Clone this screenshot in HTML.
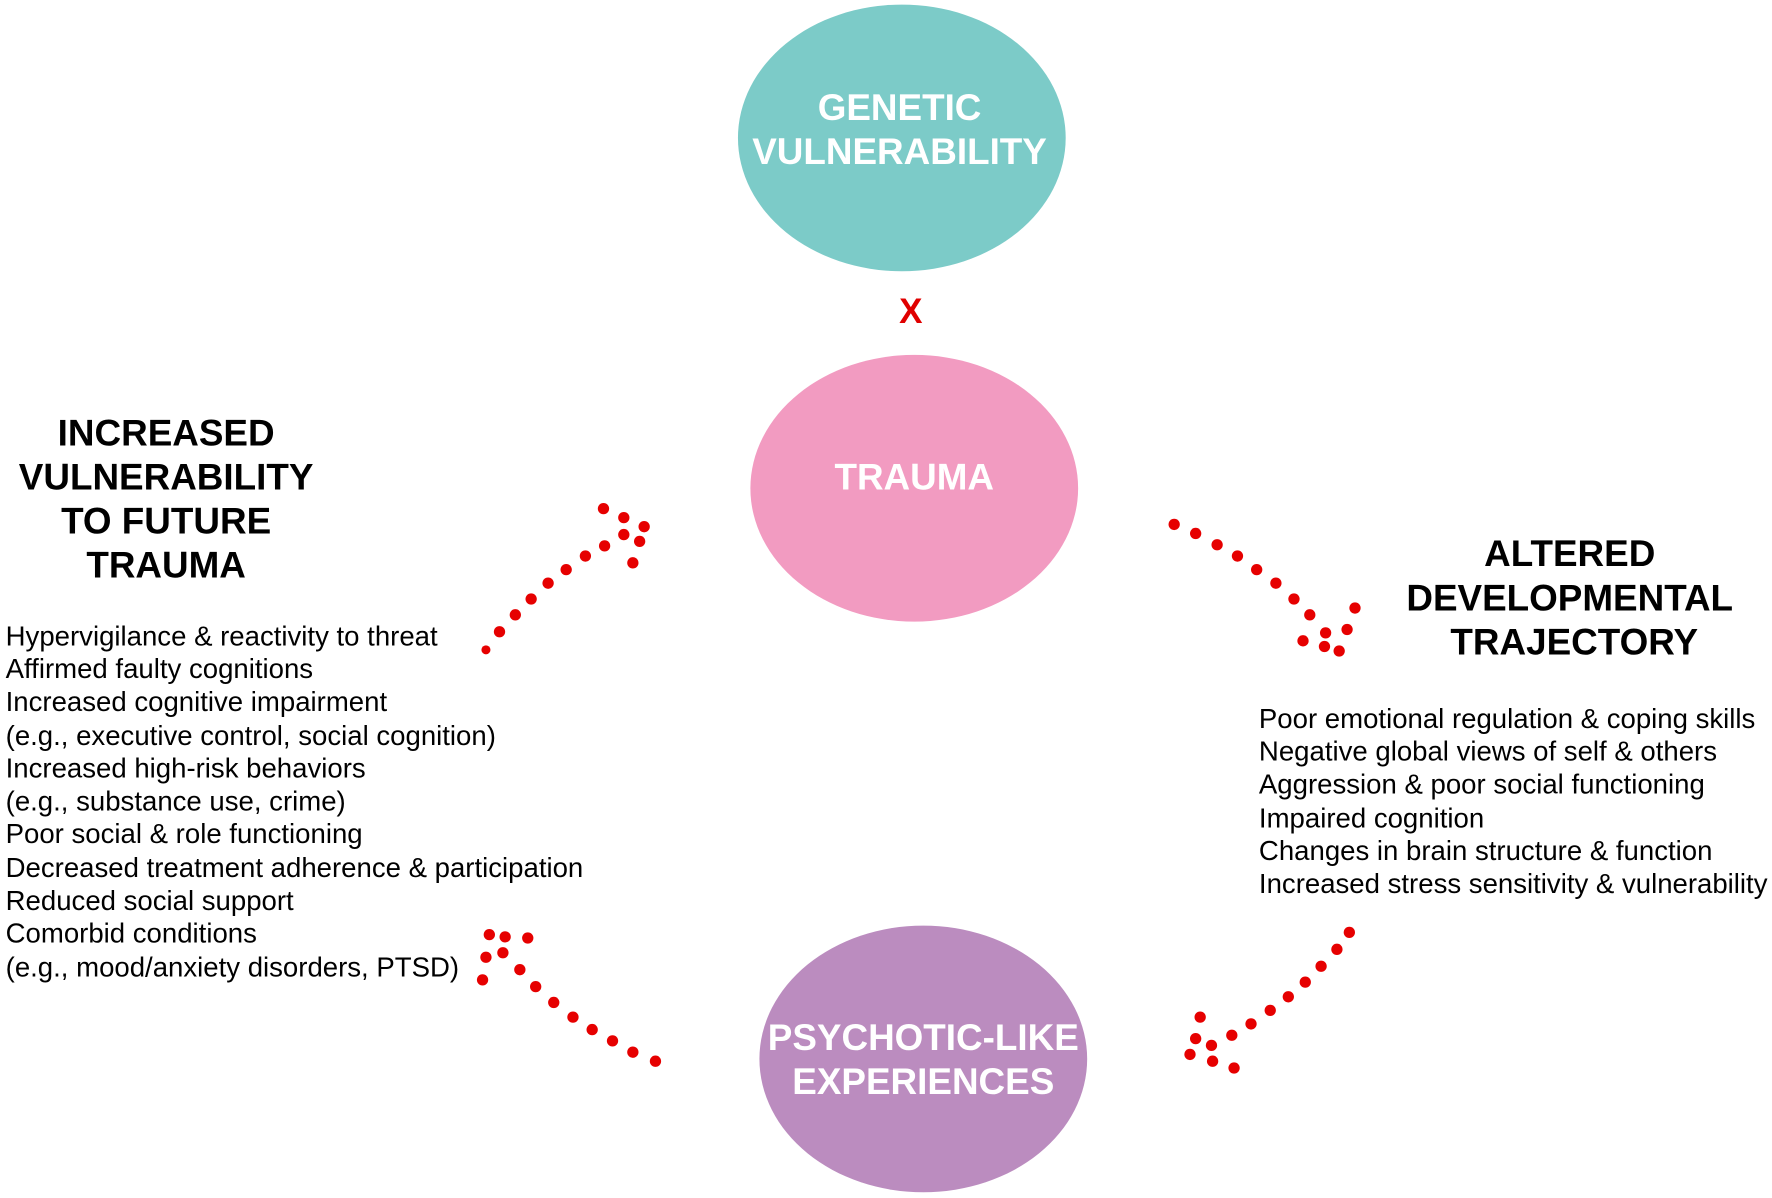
<!DOCTYPE html>
<html><head><meta charset="utf-8"><style>
html,body{margin:0;padding:0;background:#fff;}
svg{display:block;}
text{font-family:"Liberation Sans",Arial,sans-serif;}
.h{font-weight:bold;font-size:32.6px;fill:#000;text-anchor:middle;}
.w{font-weight:bold;font-size:32.6px;fill:#fff;text-anchor:middle;}
.l{font-size:24.4px;fill:#000;}
</style></head><body>
<svg width="1772" height="1198" viewBox="0 0 1568 1060" xmlns="http://www.w3.org/2000/svg">
<rect width="1568" height="1060" fill="#fff"/>
<ellipse cx="798" cy="122" rx="145" ry="118" fill="#7ccbc8"/>
<text class="w" x="796" y="106">GENETIC</text>
<text class="w" x="796" y="145">VULNERABILITY</text>
<text x="806" y="286" font-size="31" font-weight="bold" fill="#e00000" text-anchor="middle">X</text>
<ellipse cx="809" cy="432" rx="145" ry="118" fill="#f29bc1"/>
<text class="w" x="809" y="433">TRAUMA</text>
<ellipse cx="817" cy="937" rx="145" ry="118" fill="#bb8cbf"/>
<text class="w" x="817" y="929">PSYCHOTIC-LIKE</text>
<text class="w" x="817" y="968">EXPERIENCES</text>

<text class="h" x="147" y="394">INCREASED</text>
<text class="h" x="147" y="433">VULNERABILITY</text>
<text class="h" x="147" y="472">TO FUTURE</text>
<text class="h" x="147" y="511">TRAUMA</text>

<text class="l" x="5" y="571">Hypervigilance &amp; reactivity to threat</text>
<text class="l" x="5" y="600">Affirmed faulty cognitions</text>
<text class="l" x="5" y="629">Increased cognitive impairment</text>
<text class="l" x="5" y="659">(e.g., executive control, social cognition)</text>
<text class="l" x="5" y="688">Increased high-risk behaviors</text>
<text class="l" x="5" y="717">(e.g., substance use, crime)</text>
<text class="l" x="5" y="746">Poor social &amp; role functioning</text>
<text class="l" x="5" y="776">Decreased treatment adherence &amp; participation</text>
<text class="l" x="5" y="805">Reduced social support</text>
<text class="l" x="5" y="834">Comorbid conditions</text>
<text class="l" x="5" y="864">(e.g., mood/anxiety disorders, PTSD)</text>

<text class="h" x="1389" y="501">ALTERED</text>
<text class="h" x="1389" y="540">DEVELOPMENTAL</text>
<text class="h" x="1393" y="579">TRAJECTORY</text>

<text class="l" x="1114" y="644">Poor emotional regulation &amp; coping skills</text>
<text class="l" x="1114" y="673">Negative global views of self &amp; others</text>
<text class="l" x="1114" y="702">Aggression &amp; poor social functioning</text>
<text class="l" x="1114" y="732">Impaired cognition</text>
<text class="l" x="1114" y="761">Changes in brain structure &amp; function</text>
<text class="l" x="1114" y="790">Increased stress sensitivity &amp; vulnerability</text>

<g fill="#e60000">
<circle cx="430" cy="575" r="4"/><circle cx="442" cy="559" r="5"/><circle cx="456" cy="544" r="5"/><circle cx="470" cy="530" r="5"/><circle cx="485" cy="516" r="5"/><circle cx="501" cy="504" r="5"/><circle cx="518" cy="492" r="5"/><circle cx="535" cy="483" r="5"/>
<circle cx="534" cy="450" r="5"/><circle cx="552" cy="458" r="5"/><circle cx="570" cy="466" r="5"/><circle cx="552" cy="473" r="5"/><circle cx="566" cy="479" r="5"/><circle cx="560" cy="498" r="5"/>
<circle cx="1039" cy="464" r="5"/><circle cx="1058" cy="472" r="5"/><circle cx="1077" cy="482" r="5"/><circle cx="1095" cy="492" r="5"/><circle cx="1112" cy="504" r="5"/><circle cx="1129" cy="516" r="5"/><circle cx="1145" cy="530" r="5"/><circle cx="1159" cy="544" r="5"/>
<circle cx="1199" cy="538" r="5"/><circle cx="1192" cy="557" r="5"/><circle cx="1173" cy="560" r="5"/><circle cx="1153" cy="567" r="5"/><circle cx="1172" cy="572" r="5"/><circle cx="1185" cy="576" r="5"/>
<circle cx="1194" cy="825" r="5"/><circle cx="1183" cy="840" r="5"/><circle cx="1169" cy="855" r="5"/><circle cx="1155" cy="869" r="5"/><circle cx="1140" cy="882" r="5"/><circle cx="1124" cy="894" r="5"/><circle cx="1107" cy="906" r="5"/><circle cx="1090" cy="916" r="5"/>
<circle cx="1062" cy="900" r="5"/><circle cx="1058" cy="919" r="5"/><circle cx="1072" cy="925" r="5"/><circle cx="1053" cy="933" r="5"/><circle cx="1073" cy="939" r="5"/><circle cx="1092" cy="945" r="5"/>
<circle cx="580" cy="939" r="5"/><circle cx="560" cy="931" r="5"/><circle cx="542" cy="921" r="5"/><circle cx="524" cy="911" r="5"/><circle cx="507" cy="900" r="5"/><circle cx="490" cy="887" r="5"/><circle cx="474" cy="873" r="5"/><circle cx="460" cy="858" r="5"/>
<circle cx="433" cy="827" r="5"/><circle cx="447" cy="829" r="5"/><circle cx="467" cy="830" r="5"/><circle cx="445" cy="843" r="5"/><circle cx="430" cy="847" r="5"/><circle cx="427" cy="867" r="5"/>
</g>
</svg>
</body></html>
